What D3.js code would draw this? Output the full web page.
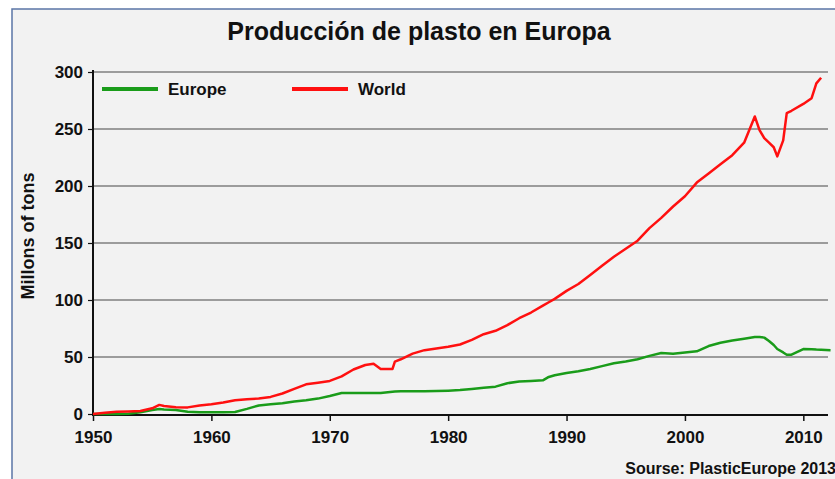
<!DOCTYPE html>
<meta charset="utf-8">
<script src="https://d3js.org/d3.v7.min.js"></script>
<style>
  body { margin: 0; background: #fff; }
  text { font-family: "Liberation Sans", Arial, sans-serif; font-weight: bold; fill: #111; }
</style>
<div id="chart"></div>
<script>
    // data (millions of tons)
    var years = [1950, 1951, 1952, 1953, 1954, 1955, 1955.6, 1956, 1957, 1958, 1959, 1960, 1961, 1962, 1963, 1964, 1965,
                 1966, 1967, 1968, 1969, 1970, 1971, 1972, 1973, 1973.7, 1974.3, 1975.3, 1975.5, 1976, 1977, 1978, 1979,
                 1980, 1981, 1982, 1983, 1984, 1985, 1986, 1987, 1988, 1988.5, 1989, 1990, 1991, 1992, 1993, 1994, 1995,
                 1996, 1997, 1998, 1999, 2000, 2001, 2002, 2003, 2004, 2005, 2005.9, 2006.3, 2006.7, 2007.1, 2007.5,
                 2007.8, 2008.3, 2008.6, 2009, 2010, 2010.7, 2011.1, 2011.5];
    var world = [0, 1, 2, 2.2, 2.6, 5, 8, 7, 6, 5.8, 7.5, 8.5, 10, 12, 13, 13.5, 15,
                 18, 22, 26, 27.5, 29, 33, 39, 43, 44, 39.5, 39.5, 46, 48, 53, 56, 57.5,
                 59, 61, 65, 70, 73, 78, 84, 89, 95, 98, 101, 108, 114, 122, 130, 138, 145,
                 152, 163, 172, 182, 191, 203, 211, 219, 227, 238, 261, 249, 242, 238, 234,
                 226, 240, 264, 266, 272, 277, 290, 295];
    var europe = [0, 0, 0, 0.3, 1.5, 3.5, 4.4, 4, 3.5, 2, 1.5, 1.5, 1.5, 1.8, 4.5, 7.5, 8.5,
                  9.5, 11, 12, 13.5, 15.8, 18.4, 18.4, 18.5, 18.5, 18.5, 19.6, 19.8, 20, 20, 20, 20.2,
                  20.5, 21, 22, 23, 24, 27, 28.5, 29, 29.5, 32.5, 34, 36, 37.5, 39.5, 42, 44.5, 46,
                  48, 51, 53.5, 52.8, 54, 55, 59.6, 62.5, 64.5, 66, 67.5, 67.5, 67, 64, 60.5,
                  57, 54, 52, 52, 57, 56.8, 56.5, 56.3];
    var europeTail = [[2012.3, 56]];
    var yTicks = [0, 50, 100, 150, 200, 250, 300];
    var xTicks = [1950, 1960, 1970, 1980, 1990, 2000, 2010];

    var W = 835, H = 479;
    var svg = d3.select("#chart").append("svg")
        .attr("width", W).attr("height", H);

    // panel
    svg.append("rect").attr("x", 12).attr("y", 9).attr("width", 900).attr("height", 600)
        .attr("fill", "#f2f2f2").attr("stroke", "#5b75a6").attr("stroke-width", 1.5);

    var x = d3.scaleLinear().domain([1950, 2012]).range([93, 827]);
    var y = d3.scaleLinear().domain([0, 300]).range([414, 72]);

    // title
    svg.append("text").attr("x", 419).attr("y", 40).attr("text-anchor", "middle")
        .style("font-size", "25px").text("Producción de plasto en Europa");

    // gridlines
    svg.append("g").selectAll("line").data(yTicks.filter(function(d){ return d > 0; }))
      .enter().append("line")
        .attr("x1", x(1950)).attr("x2", 828)
        .attr("y1", function(d){ return y(d); }).attr("y2", function(d){ return y(d); })
        .attr("stroke", "#7f7f7f").attr("stroke-width", 1.5);

    // y axis
    var yAxis = svg.append("g").attr("transform", "translate(" + x(1950) + ",0)")
        .call(d3.axisLeft(y).tickValues(yTicks).tickSize(5).tickPadding(5));
    yAxis.select(".domain").attr("stroke", "#111").attr("stroke-width", 2)
        .attr("d", "M0," + y(0) + "V" + (y(300) - 2));
    yAxis.selectAll(".tick line").attr("stroke", "#111").attr("stroke-width", 1.2);
    yAxis.selectAll("text").style("font-size", "17px").style("font-family", "Liberation Sans, Arial, sans-serif")
        .attr("fill", "#111");

    // x axis
    var xAxis = svg.append("g").attr("transform", "translate(0," + (y(0) + 1) + ")")
        .call(d3.axisBottom(x).tickValues(xTicks).tickFormat(d3.format("d")).tickSize(6).tickPadding(10));
    xAxis.select(".domain").attr("stroke", "#111").attr("stroke-width", 2.2)
        .attr("d", "M" + (x(1950) - 1) + ",0H828");
    xAxis.selectAll(".tick line").attr("stroke", "#111").attr("stroke-width", 1.5);
    xAxis.selectAll("text").style("font-size", "17px").style("font-family", "Liberation Sans, Arial, sans-serif")
        .attr("fill", "#111");

    // y label
    svg.append("text").attr("transform", "translate(34,236) rotate(-90)")
        .attr("text-anchor", "middle").style("font-size", "18px").text("Millons of tons");

    // lines
    var line = d3.line()
        .x(function(d) { return x(d[0]); })
        .y(function(d) { return y(d[1]); });

    var worldPts = years.map(function(yr, i){ return [yr, world[i]]; });
    var europePts = years.map(function(yr, i){ return [yr, europe[i]]; }).concat(europeTail);

    svg.append("path").attr("d", line(europePts)).attr("fill", "none")
        .attr("stroke", "#1a9c1a").attr("stroke-width", 2.5).attr("stroke-linejoin", "round");
    svg.append("path").attr("d", line(worldPts)).attr("fill", "none")
        .attr("stroke", "#ff1010").attr("stroke-width", 2.5).attr("stroke-linejoin", "round");

    // legend
    var legend = [{name: "Europe", color: "#1a9c1a", x: 102}, {name: "World", color: "#ff1010", x: 292}];
    var lg = svg.append("g").selectAll("g").data(legend).enter().append("g");
    lg.append("line").attr("x1", function(d){ return d.x; }).attr("x2", function(d){ return d.x + 56; })
        .attr("y1", 89).attr("y2", 89).attr("stroke", function(d){ return d.color; }).attr("stroke-width", 4);
    lg.append("text").attr("x", function(d){ return d.x + 66; }).attr("y", 95)
        .style("font-size", "17px").text(function(d){ return d.name; });

    // source
    svg.append("text").attr("x", 836).attr("y", 474).attr("text-anchor", "end")
        .style("font-size", "16px").text("Sourse: PlasticEurope 2013");
</script>
